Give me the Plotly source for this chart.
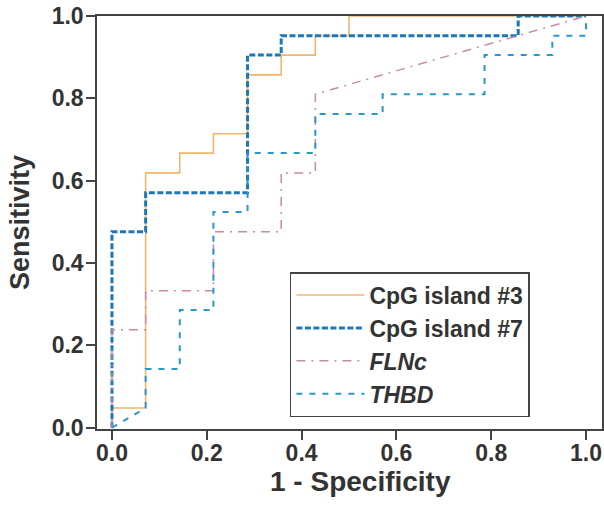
import plotly.graph_objects as go

# ROC curve vertices (1 - Specificity, Sensitivity)
cpg3_fpr = [0.0, 0.0, 0.071, 0.071, 0.143, 0.143, 0.214, 0.214, 0.286, 0.286, 0.357, 0.357, 0.429, 0.429, 0.5, 0.5, 1.0]
cpg3_tpr = [0.0, 0.048, 0.048, 0.619, 0.619, 0.667, 0.667, 0.714, 0.714, 0.857, 0.857, 0.905, 0.905, 0.952, 0.952, 1.0, 1.0]

cpg7_fpr = [0.0, 0.0, 0.071, 0.071, 0.286, 0.286, 0.357, 0.357, 0.857, 0.857, 1.0]
cpg7_tpr = [0.0, 0.476, 0.476, 0.571, 0.571, 0.905, 0.905, 0.952, 0.952, 1.0, 1.0]

flnc_fpr = [0.0, 0.0, 0.071, 0.071, 0.214, 0.214, 0.357, 0.357, 0.429, 0.429, 1.0]
flnc_tpr = [0.0, 0.238, 0.238, 0.333, 0.333, 0.476, 0.476, 0.619, 0.619, 0.810, 1.0]

thbd_fpr = [0.0, 0.071, 0.071, 0.143, 0.143, 0.214, 0.214, 0.286, 0.286, 0.429, 0.429, 0.571, 0.571, 0.786, 0.786, 0.929, 0.929, 1.0, 1.0]
thbd_tpr = [0.0, 0.048, 0.143, 0.143, 0.286, 0.286, 0.524, 0.524, 0.667, 0.667, 0.762, 0.762, 0.810, 0.810, 0.905, 0.905, 0.952, 0.952, 1.0]

series_names = ["CpG island #3", "CpG island #7", "<i>FLNc</i>", "<i>THBD</i>"]
tick_vals = [0.0, 0.2, 0.4, 0.6, 0.8, 1.0]
tick_text = ["0.0", "0.2", "0.4", "0.6", "0.8", "1.0"]
x_title = "1 - Specificity"
y_title = "Sensitivity"

FONT = "Liberation Sans, Arial, sans-serif"
TXT = "#333333"

fig = go.Figure()
fig.add_trace(go.Scatter(x=cpg3_fpr, y=cpg3_tpr, mode="lines", name=series_names[0],
                         line=dict(color="#efb66c", width=1.6)))
fig.add_trace(go.Scatter(x=cpg7_fpr, y=cpg7_tpr, mode="lines", name=series_names[1],
                         line=dict(color="#1b78b8", width=3, dash="6px,2.5px")))
fig.add_trace(go.Scatter(x=flnc_fpr, y=flnc_tpr, mode="lines", name=series_names[2],
                         line=dict(color="#c98aa4", width=1.5, dash="9px,6px,2px,6px")))
fig.add_trace(go.Scatter(x=thbd_fpr, y=thbd_tpr, mode="lines", name=series_names[3],
                         line=dict(color="#2a98c4", width=2, dash="6px,7px")))

axis_common = dict(
    showline=True, linecolor="#444444", linewidth=1.5, mirror=True,
    ticks="outside", ticklen=9, tickwidth=1.5, tickcolor="#444444",
    tickvals=tick_vals, ticktext=tick_text,
    tickfont=dict(family=FONT, size=23, color=TXT, weight="bold"),
    showgrid=False, zeroline=False, automargin=False,
)

fig.update_xaxes(range=[-0.0316, 1.0338], ticklabelstandoff=-6, **axis_common)
fig.update_yaxes(range=[-0.003, 1.0], ticklabelstandoff=-2,
                 title=dict(text=y_title, font=dict(family=FONT, size=27, color=TXT, weight="bold"), standoff=14),
                 **axis_common)

fig.add_annotation(text=x_title, xref="paper", yref="paper", x=0.521, y=0,
                   xanchor="center", yanchor="middle", yshift=-52, showarrow=False,
                   font=dict(family=FONT, size=28, color=TXT, weight="bold"))

fig.update_layout(
    width=604, height=505,
    margin=dict(l=97, r=2, t=16, b=76),
    paper_bgcolor="white", plot_bgcolor="white",
    legend=dict(x=0.382, y=0.38, xanchor="left", yanchor="top",
                bordercolor="#444444", borderwidth=1.5, bgcolor="white",
                font=dict(family=FONT, size=23, color=TXT, weight="bold"),
                itemwidth=68, tracegroupgap=0),
    showlegend=True,
)

fig.write_html("out.html", config={"displayModeBar": False},
               post_script="document.body.style.margin='0';document.body.style.overflow='hidden';")
